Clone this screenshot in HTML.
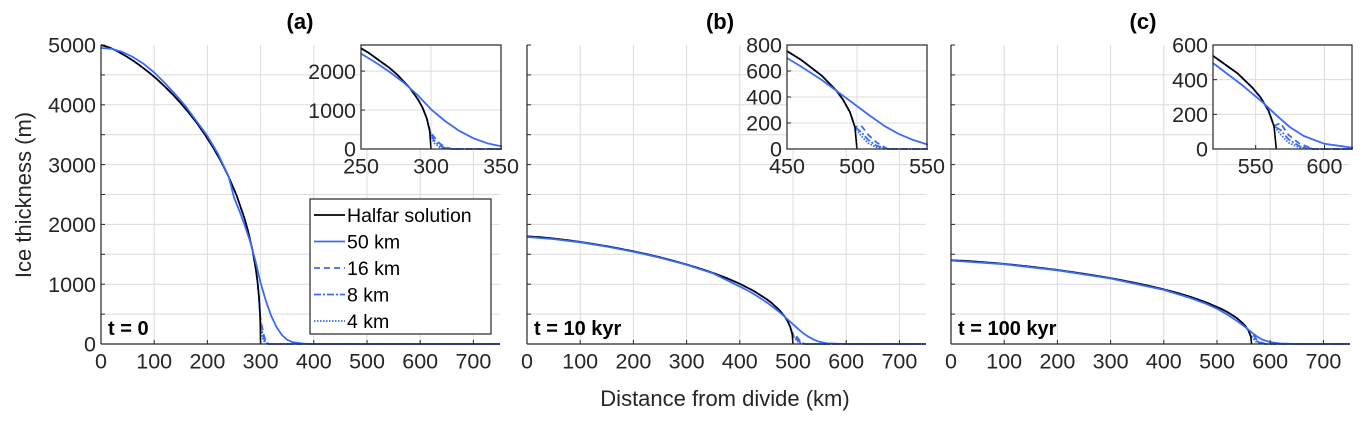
<!DOCTYPE html>
<html><head><meta charset="utf-8"><style>
body{margin:0;background:#fff;}
svg{display:block;font-family:"Liberation Sans",Arial,sans-serif;}
</style></head><body>
<svg id="fig" width="1363" height="426" viewBox="0 0 1363 426"></svg>
<script>
// ---- data ----
const xA = [0,15,30,45,60,75,90,105,120,135,150,165,180,195,210,225,240,255,270,276,285,291,294,297,299.1,300];
const halfarA = [5000,4961,4899,4825,4741,4646,4542,4429,4305,4172,4026,3868,3696,3507,3297,3063,2795,2480,2093,1905,1560,1255,1057,785,470,0];
const r50A_x = [0,20,40,60,80,100,120,140,160,180,200,220,240,250,260,270,280,290,300,310,320,330,340,350,360,380,400,750];
const r50A_y = [4950,4935,4885,4800,4685,4540,4365,4170,3965,3720,3480,3180,2800,2450,2230,1990,1720,1400,1020,720,470,280,150,70,30,5,0,0];
const tailA_x = [302,306,310,315,750];
const tail16A = [320,150,50,0,0];
const tail8A  = [230,90,25,0,0];
const tail4A  = [160,50,12,0,0];

const xB = [0,25,50,75,100,125,150,175,200,225,250,275,300,325,350,375,400,425,450,460,475,485,490,495,498.5,500];
const halfarB = [1800,1786,1764,1737,1707,1672,1635,1594,1550,1502,1449,1392,1330,1262,1187,1103,1006,893,753,686,562,452,380,283,169,0];
const r50B_x = [0,50,100,150,200,250,300,350,400,420,440,450,460,475,490,500,510,520,530,540,550,565,600,750];
const r50B_y = [1790,1755,1700,1628,1543,1443,1325,1180,960,870,760,700,635,530,410,330,250,175,115,70,35,10,0,0];
const tailB_x = [503,508,514,522,750];
const tail16B = [180,110,50,0,0];
const tail8B  = [130,70,25,0,0];
const tail4B  = [100,45,12,0,0];

const xC = [0,28.3,56.5,84.8,113,141.3,169.5,197.8,226,254.3,282.5,310.8,339,367.3,395.5,423.8,452,480.3,508.5,519.8,536.8,548,553.7,559.4,563.3,565];
const halfarC = [1400,1389,1372,1351,1327,1301,1272,1240,1205,1168,1127,1083,1035,982,923,858,782,694,586,533,437,351,296,220,132,0];
const r50C_x = [0,100,200,300,400,450,480,500,520,540,555,565,575,585,600,620,650,750];
const r50C_y = [1395,1335,1232,1095,905,770,670,590,490,370,270,195,125,75,30,8,0,0];
const tailC_x = [568,574,582,592,750];
const tail16C = [150,80,30,0,0];
const tail8C  = [110,55,15,0,0];
const tail4C  = [85,35,8,0,0];

const mainXTicks = [0,100,200,300,400,500,600,700];
const mainYTicks = [0,1000,2000,3000,4000,5000];
const insetA_xt=[250,300,350], insetA_yt=[0,1000,2000];
const insetB_xt=[450,500,550], insetB_yt=[0,200,400,600,800];
const insetC_xt=[550,600], insetC_yt=[0,200,400,600];
const legendLabels=["Halfar solution","50 km","16 km","8 km","4 km"];

// ---- drawing ----
const svg=document.getElementById('fig');
const NS='http://www.w3.org/2000/svg';
const BLUE='#3b6bf5';
function mk(tag,attrs,parent){const e=document.createElementNS(NS,tag);for(const k in attrs)e.setAttribute(k,attrs[k]);(parent||svg).appendChild(e);return e;}
function txt(s,x,y,size,anchor,parent,weight){const t=mk('text',{x:x,y:y,'font-size':size,'text-anchor':anchor||'middle',fill:'#262626'},parent);if(weight){t.setAttribute('font-weight',weight);t.setAttribute('fill','#000');}t.textContent=s;return t;}

function axes(name,x0,x1,y0,y1,xmin,xmax,ymin,ymax,xt,yt,ylabels,fs,box,minorY){
  const g=mk('g',{});
  
  
  const sx=v=>x0+(v-xmin)/(xmax-xmin)*(x1-x0);
  const sy=v=>y1-(v-ymin)/(ymax-ymin)*(y1-y0);
  mk('rect',{x:x0,y:y0,width:x1-x0,height:y1-y0,fill:'#fff'},g);
  const clipId='c'+name;
  const cp=mk('clipPath',{id:clipId},g);mk('rect',{x:x0,y:y0-2,width:x1-x0+1,height:y1-y0+3},cp);
  const yg=yt.concat(minorY||[]);
  xt.forEach(v=>{if(v>xmin&&v<xmax){mk('line',{x1:sx(v),x2:sx(v),y1:y0,y2:y1,stroke:'#dcdcdc','stroke-width':1},g);}});
  yg.forEach(v=>{if(v>ymin&&v<ymax){mk('line',{x1:x0,x2:x1,y1:sy(v),y2:sy(v),stroke:'#dcdcdc','stroke-width':1},g);}});
  const plot=mk('g',{'clip-path':'url(#'+clipId+')'},g);
  if(box) mk('rect',{x:x0,y:y0,width:x1-x0,height:y1-y0,fill:'none',stroke:'#262626','stroke-width':1.2},g);
  else {mk('line',{x1:x0,x2:x0,y1:y0,y2:y1,stroke:'#262626','stroke-width':1.2},g);mk('line',{x1:x0,x2:x1,y1:y1,y2:y1,stroke:'#262626','stroke-width':1.2},g);}
  xt.forEach(v=>{mk('line',{x1:sx(v),x2:sx(v),y1:y1,y2:y1-4,stroke:'#262626'},g);const t=txt(String(v),sx(v),y1+fs+3,fs,'middle',g);});
  yg.forEach(v=>{mk('line',{x1:x0,x2:x0+4,y1:sy(v),y2:sy(v),stroke:'#262626'},g);});
  if(ylabels) yt.forEach(v=>{const t=txt(String(v),x0-5,sy(v)+fs*0.36,fs,'end',g);});
  return {g:plot,sx:sx,sy:sy};
}
function line(ax,xs,ys,color,dash,name,w){
  const d=xs.map((x,i)=>(i?'L':'M')+ax.sx(x).toFixed(1)+' '+ax.sy(ys[i]).toFixed(1)).join(' ');
  const p=mk('path',{d:d,fill:'none',stroke:color,'stroke-width':w||1.8,'stroke-dasharray':dash||'none','stroke-linejoin':'round'},ax.g);
  
  
}
function series(ax,hx,hy,r50x,r50y,tx,t16,t8,t4){
  const bx=hx.slice(0,-1).concat(tx);
  const by=h=>hy.slice(0,-1).concat(h);
  line(ax,bx,by(t16),BLUE,'6 4','series-16km');
  line(ax,bx,by(t8),BLUE,'7 2 2 2','series-8km');
  line(ax,bx,by(t4),BLUE,'1.5 1.5','series-4km');
  line(ax,hx.concat([hx[hx.length-1]]),hy.concat([0]),'#000',null,'halfar-solution',1.6);
  line(ax,r50x,r50y,BLUE,null,'series-50km');
}
const minor=[500,1500,2500,3500,4500];
const panels=[
 {n:'a',x0:101,lab:'t = 0',xs:[xA,halfarA,r50A_x,r50A_y,tailA_x,tail16A,tail8A,tail4A],ix0:361,ix1:501,ixr:[250,350],iyr:2670,ixt:insetA_xt,iyt:insetA_yt},
 {n:'b',x0:527,lab:'t = 10 kyr',xs:[xB,halfarB,r50B_x,r50B_y,tailB_x,tail16B,tail8B,tail4B],ix0:787,ix1:927,ixr:[450,550],iyr:800,ixt:insetB_xt,iyt:insetB_yt},
 {n:'c',x0:951,lab:'t = 100 kyr',xs:[xC,halfarC,r50C_x,r50C_y,tailC_x,tail16C,tail8C,tail4C],ix0:1213,ix1:1352,ixr:[519,620],iyr:600,ixt:insetC_xt,iyt:insetC_yt}
];
panels.forEach(p=>{
  const ax=axes('panel-'+p.n,p.x0,p.x0+399,45,344,0,750,0,5000,mainXTicks,mainYTicks,p.n==='a',21.5,false,minor);
  series(ax,...p.xs);
  const t=txt(p.lab,p.x0+7,335,20,'start',svg,'bold');
  
  
  const ti=txt('('+p.n+')',p.n==='a'?300:(p.n==='b'?720:1143),29,22,'middle',svg,'bold');
  
  
});
panels.forEach(p=>{
  const ax=axes('inset-'+p.n,p.ix0,p.ix1,45,149,p.ixr[0],p.ixr[1],0,p.iyr,p.ixt,p.iyt,true,21.5,true);
  series(ax,...p.xs);
});
// legend
const lg=mk('g',{});


mk('rect',{x:310,y:199,width:181,height:135,fill:'#fff',stroke:'#262626','stroke-width':1.2},lg);
const ldash=[null,null,'6 4','7 2 2 2','1.5 1.5'];
legendLabels.forEach((s,i)=>{
  const y=215+i*26.5;
  const e=mk('g',{},lg);
  
  
  mk('line',{x1:314,x2:345,y1:y,y2:y,stroke:i?BLUE:'#000','stroke-width':1.8,'stroke-dasharray':ldash[i]||'none'},e);
  txt(s,347,y+7,19.5,'start',e).setAttribute('fill','#000');
});
const yl=txt('Ice thickness (m)',0,0,22,'middle');
yl.setAttribute('transform','translate(31,195) rotate(-90)');


const xl=txt('Distance from divide (km)',725,406,22,'middle');


</script>
</body></html>
